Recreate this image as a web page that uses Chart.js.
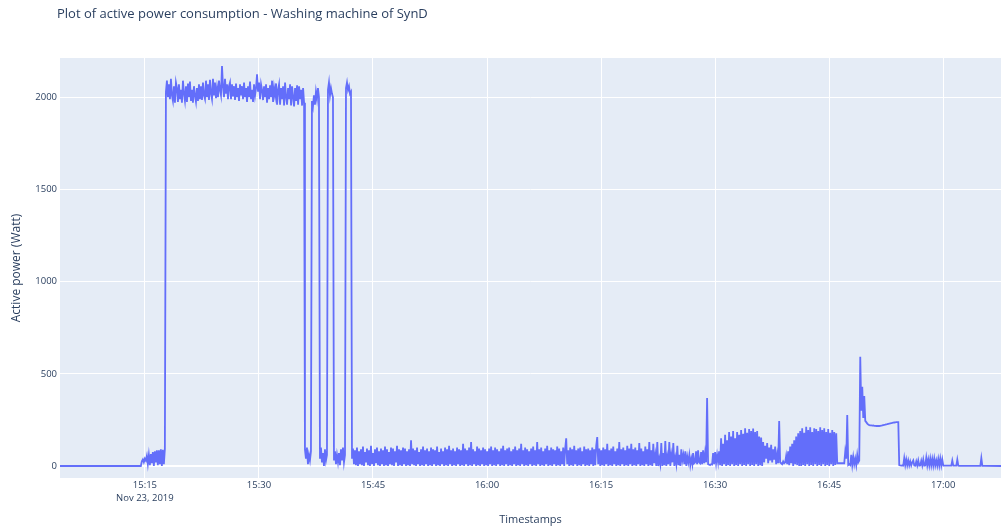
<!DOCTYPE html>
<html>
<head>
<meta charset="utf-8">
<script src="https://cdn.jsdelivr.net/npm/chart.js@4.4.1/dist/chart.umd.min.js"></script>
<style>
  html, body { margin: 0; padding: 0; background: #ffffff; }
  #wrap { width: 1001px; height: 529px; position: relative; }
</style>
</head>
<body>
<div id="wrap"><canvas id="c" width="1001" height="529"></canvas></div>
<script>
// ---------------- DATA ----------------
const CHART_TITLE = 'Plot of active power consumption - Washing machine of SynD';
const X_TITLE = 'Timestamps';
const Y_TITLE = 'Active power (Watt)';
const DATE_LABEL = 'Nov 23, 2019';

const X_MIN = '15:03:50';
const X_MAX = '17:07:36';
const X_TICKS = ['15:15', '15:30', '15:45', '16:00', '16:15', '16:30', '16:45', '17:00'];
const Y_MIN = -65;
const Y_MAX = 2213;
const Y_TICKS = [0, 500, 1000, 1500, 2000];

const SAMPLE_SECONDS = 7.9;

// idle points (start and end of the record)
const idleTimes = ['15:03:50', '17:08:00'];
const idleValues = [0, 0];

// pre-wash / water intake
const rampStart = '15:14:28';
const rampValues = [0,25,35,20,40,30,55,10,60,5,65,15,75,0,80,20,85,5,85,10,90,0,88,10,92];

// heating phase
const heatStart = '15:17:46';
const heatValues = [
  2030,2090,2000,2070,1990,2100,2010,1980,2060,1970,
  2080,2050,1975,2070,1990,2040,1970,2090,2020,1980,
  2060,1975,2075,2000,2085,1980,2040,1970,2060,2010,
  1975,2050,1980,2070,1990,2060,1985,2080,2010,1990,
  2090,2000,2070,1985,2095,2020,1990,2100,2010,2080,
  1995,2050,2000,2090,2040,2010,2170,2060,2000,2100,
  2020,2070,1990,2060,2080,1990,2070,2005,2060,1985,
  2075,2000,2050,1980,2070,2010,2060,1990,2080,2000,
  2050,1975,2060,2000,2085,1990,2040,1975,2070,2010,
  2050,2125,2030,2080,1990,2070,2040,1985,2060,2000,
  2070,1970,2050,1990,2065,2000,2090,1975,2050,2010,
  2075,1960,2040,2070,1960,2050,1990,2060,1955,2080,
  2000,1960,2050,1990,2070,1955,2060,2000,1950,2050,
  1980,2065,1960,2060,1990,2040,1955,2050,1970
];

// heater bursts
const burstStart = '15:36:03';
const burstValues = [
  90,40,100,10,60,30,80,1980,1950,2010,
  1960,2030,1990,2050,2000,40,100,20,70,0,
  90,30,60,2040,2080,2010,2050,2020,2000,30,
  80,10,60,20,70,5,90,30,100,20,
  60,2050,2080,2040,2060,2020,2030,40
];

// washing drum motion
const washStart = '15:42:22';
const washValues = [
  95,10,85,5,100,0,80,10,90,5,
  105,0,75,20,95,5,85,0,110,10,
  70,0,90,15,100,5,80,0,95,10,
  85,0,105,5,90,0,75,10,100,5,
  95,0,80,20,110,0,90,5,85,0,
  100,10,95,0,80,5,90,0,140,10,
  95,5,85,0,100,10,75,0,90,5,
  105,0,85,10,95,0,80,5,100,0,
  90,10,85,0,105,5,75,0,95,10,
  80,0,100,5,90,0,110,10,85,0,
  95,5,80,0,100,10,90,0,85,5,
  120,0,95,10,85,0,100,5,130,0,
  90,10,80,0,105,5,95,0,85,10,
  100,0,90,5,80,0,95,10,105,0,
  85,5,100,0,90,10,80,0,95,5,
  110,0,85,10,95,0,100,5,80,0,
  90,10,105,0,85,5,95,0,120,10,
  85,0,100,5,90,0,80,10,95,0,
  105,5,85,0,130,10,90,0,100,5,
  80,0,95,10,110,0,85,5,100,0,
  90,10,85,0,105,5,95,0,80,10,
  100,0,95,150,10,85,0,100,5,90,
  0,110,10,85,0,95,5,100,0,80,
  10,105,0,90,5,95,0,85,10,100,
  0,90,5,110,157,10,95,0,85,5,
  100,0,90,10,120,0,85,5,95,0,
  105,10,80,0,95,5,130,0,90,10,
  100,0,85,5,110,0,95,10,120,0,
  90,5,100,0,85,10,125,0,95,5,
  80,0,105,10,90,0,130,5,85,0,
  120,15,60,0,130,0,40,10,125,0,
  70,5,135,0,50,10,130,0,60,20,
  125,0,45,10,110,5,60,0,90,30,
  60,10,80,0,50,20,60,5,40,10
];

// rinse / spin / pump
const spinStart = '16:27:06';
const spinValues = [
  70,15,20,80,10,85,20,15,75,10,
  85,15,70,20,369,10,8,5,10,8,
  70,10,75,15,60,20,80,5,150,0,
  120,10,170,0,140,5,185,0,160,10,
  190,0,150,5,185,0,170,10,195,0,
  175,5,205,0,180,10,200,0,190,5,
  203,0,185,10,190,0,160,5,155,0,
  130,20,110,40,125,15,100,30,115,20,
  90,35,105,10,60,15,244,20,15,10,
  25,15,20,55,10,80,5,105,15,120,
  0,140,10,160,5,177,0,190,0,205,
  5,180,0,213,10,195,0,210,5,185,
  0,205,10,200,0,190,5,210,0,195,
  10,205,0,185,5,200,0,180,10,195,
  0,185,5,177,15,15,15,15,16,15,
  16,15,78,40,277,5,10,5,60,5,
  50,10,40,5,60,20,30,593,300,430,
  260,380,245,238,230,225,222,221,220,219,
  220,218,218,217,217,218,217,218,219,220,
  222,223,224,226,227,229,230,231,232,234,
  235,236,237,238,238,238
];

// end of cycle
const tailStart = '16:54:13';
const tailValues = [
  5,3,2,3,2,43,5,35,4,30,
  3,25,3,20,30,3,2,25,3,30,
  2,3,28,3,35,2,3,45,3,35,
  2,40,3,38,2,40,3,30,2,38,
  2,40,3,35,2,2,2,2,2,2,
  2,2,2,30,2,2,2,2,35,2,
  1,1,1,1,1,1,1,1,1,1,
  1,1,1,1,1,1,1,1,1,1,
  1,1,43,1,1,1
];

// ---------------- helpers ----------------
function toMinutes(hms) {
  const p = hms.split(':').map(Number);
  return p[0] * 60 + p[1] + (p[2] || 0) / 60;
}
function segment(start, values) {
  const t0 = toMinutes(start);
  return values.map((v, i) => ({ x: t0 + i * SAMPLE_SECONDS / 60, y: v }));
}
function fmt(m) {
  const h = Math.floor(m / 60), mm = Math.round(m - h * 60);
  return String(h).padStart(2, '0') + ':' + String(mm).padStart(2, '0');
}

const points = [
  { x: toMinutes(idleTimes[0]), y: idleValues[0] },
  ...segment(rampStart, rampValues),
  ...segment(heatStart, heatValues),
  ...segment(burstStart, burstValues),
  ...segment(washStart, washValues),
  ...segment(spinStart, spinValues),
  ...segment(tailStart, tailValues),
  { x: toMinutes(idleTimes[1]), y: idleValues[1] }
];

const FONT = '"Open Sans", "DejaVu Sans", sans-serif';
const TEXT = '#2a3f5f';

const bgPlugin = {
  id: 'plotBg',
  beforeDraw(chart) {
    const { ctx, chartArea: a } = chart;
    ctx.save();
    ctx.fillStyle = '#e5ecf6';
    ctx.fillRect(a.left, a.top, a.right - a.left, a.bottom - a.top);
    ctx.restore();
  },
  afterDraw(chart) {
    const { ctx } = chart;
    ctx.save();
    ctx.fillStyle = TEXT;
    ctx.font = '13px ' + FONT;
    ctx.textAlign = 'left';
    ctx.textBaseline = 'middle';
    ctx.fillText(CHART_TITLE, 57, 14);
    ctx.restore();
  }
};

new Chart(document.getElementById('c'), {
  type: 'line',
  data: {
    datasets: [{
      data: points,
      borderColor: '#636efa',
      borderWidth: 1.8,
      pointRadius: 0,
      tension: 0,
      fill: false
    }]
  },
  options: {
    responsive: false,
    animation: false,
    events: [],
    layout: { padding: { top: 58, right: 0, left: 0, bottom: 0 } },
    plugins: { legend: { display: false }, tooltip: { enabled: false }, title: { display: false } },
    scales: {
      x: {
        type: 'linear',
        min: toMinutes(X_MIN),
        max: toMinutes(X_MAX),
        afterFit(s) { s.height = 51; },
        afterBuildTicks(s) { s.ticks = X_TICKS.map(t => ({ value: toMinutes(t) })); },
        border: { display: false },
        grid: { color: '#ffffff', lineWidth: 1, drawTicks: false },
        ticks: {
          autoSkip: false,
          maxRotation: 0,
          padding: 1,
          color: TEXT,
          font: { family: FONT, size: 9.5, lineHeight: 1.35 },
          callback(v) {
            const s = fmt(v);
            return s === X_TICKS[0] ? [s, DATE_LABEL] : s;
          }
        },
        title: {
          display: true, text: X_TITLE, color: TEXT,
          font: { family: FONT, size: 11 },
          padding: { top: 0, bottom: 2.4 }
        }
      },
      y: {
        min: Y_MIN,
        max: Y_MAX,
        afterFit(s) { s.width = 60; },
        afterBuildTicks(s) { s.ticks = Y_TICKS.map(v => ({ value: v })); },
        border: { display: false },
        grid: {
          color: '#ffffff',
          lineWidth: (c) => (c.tick && c.tick.value === 0 ? 2 : 1),
          drawTicks: false
        },
        ticks: {
          autoSkip: false,
          padding: 3,
          color: TEXT,
          font: { family: FONT, size: 9.5 },
          callback(v) { return String(v); }
        },
        title: {
          display: true, text: Y_TITLE, color: TEXT,
          font: { family: FONT, size: 12 },
          padding: { top: 9.8, bottom: 0 }
        }
      }
    }
  },
  plugins: [bgPlugin]
});
</script>
</body>
</html>
